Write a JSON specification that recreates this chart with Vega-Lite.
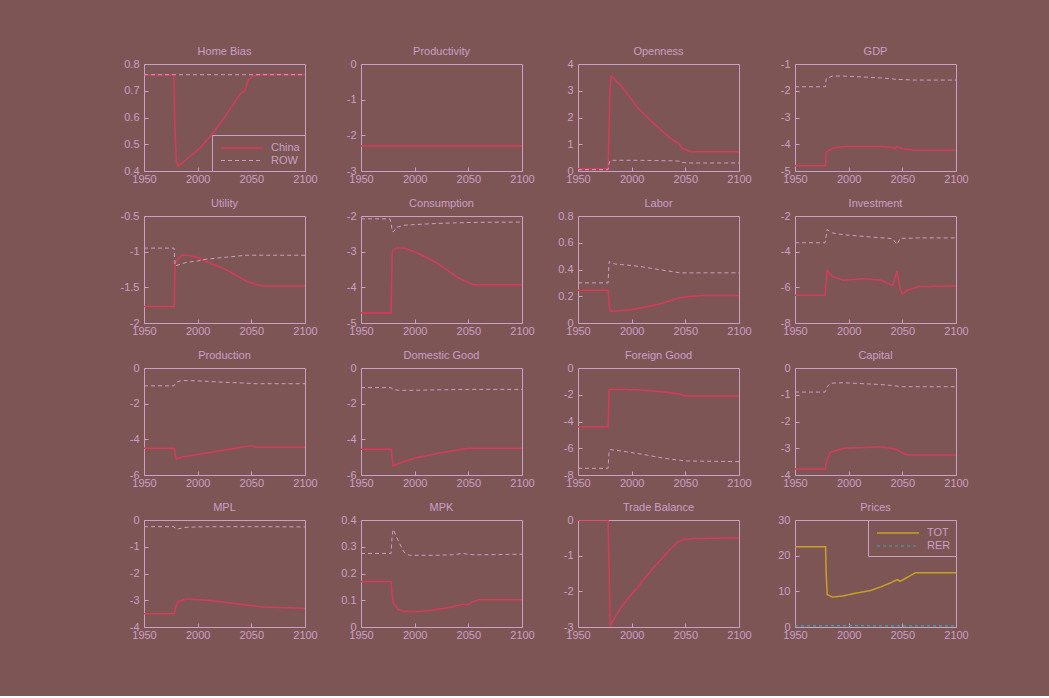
{
  "$schema": "https://vega.github.io/schema/vega-lite/v6.json",
  "background": "#7d5555",
  "padding": {"left": 119, "top": 45, "right": 81, "bottom": 55},
  "data": {"values": [
    {"p":"HB","t":1950,"China":0.76,"ROW":0.76},
    {"p":"HB","t":1977.8,"China":0.76,"ROW":0.76},
    {"p":"HB","t":1978.5,"China":0.6,"ROW":0.76},
    {"p":"HB","t":1980,"China":0.44,"ROW":0.76},
    {"p":"HB","t":1982,"China":0.418,"ROW":0.76},
    {"p":"HB","t":1990,"China":0.445,"ROW":0.76},
    {"p":"HB","t":2002,"China":0.486,"ROW":0.76},
    {"p":"HB","t":2015,"China":0.545,"ROW":0.76},
    {"p":"HB","t":2024,"China":0.595,"ROW":0.76},
    {"p":"HB","t":2035,"China":0.66,"ROW":0.76},
    {"p":"HB","t":2040,"China":0.69,"ROW":0.76},
    {"p":"HB","t":2044,"China":0.7,"ROW":0.76},
    {"p":"HB","t":2047,"China":0.74,"ROW":0.76},
    {"p":"HB","t":2052,"China":0.756,"ROW":0.76},
    {"p":"HB","t":2060,"China":0.761,"ROW":0.76},
    {"p":"HB","t":2100,"China":0.761,"ROW":0.76},

    {"p":"PR","t":1950,"China":-2.3,"ROW":0},
    {"p":"PR","t":2100,"China":-2.3,"ROW":0},

    {"p":"OP","t":1950,"China":0.08,"ROW":0.05},
    {"p":"OP","t":1978,"China":0.08,"ROW":0.05},
    {"p":"OP","t":1979,"China":1.7,"ROW":0.3},
    {"p":"OP","t":1980,"China":3.2,"ROW":0.4},
    {"p":"OP","t":1981,"China":3.55,"ROW":0.4},
    {"p":"OP","t":1991,"China":3.15,"ROW":0.4},
    {"p":"OP","t":2006,"China":2.34,"ROW":0.4},
    {"p":"OP","t":2022,"China":1.72,"ROW":0.39},
    {"p":"OP","t":2038,"China":1.16,"ROW":0.38},
    {"p":"OP","t":2044,"China":1.03,"ROW":0.37},
    {"p":"OP","t":2047,"China":0.85,"ROW":0.32},
    {"p":"OP","t":2055,"China":0.72,"ROW":0.3},
    {"p":"OP","t":2100,"China":0.72,"ROW":0.3},

    {"p":"GDP","t":1950,"China":-4.8,"ROW":-1.85},
    {"p":"GDP","t":1978.5,"China":-4.8,"ROW":-1.85},
    {"p":"GDP","t":1979,"China":-4.3,"ROW":-1.55},
    {"p":"GDP","t":1985,"China":-4.15,"ROW":-1.45},
    {"p":"GDP","t":1995,"China":-4.08,"ROW":-1.45},
    {"p":"GDP","t":2030,"China":-4.08,"ROW":-1.52},
    {"p":"GDP","t":2040,"China":-4.12,"ROW":-1.55},
    {"p":"GDP","t":2043,"China":-4.17,"ROW":-1.57},
    {"p":"GDP","t":2045,"China":-4.08,"ROW":-1.58},
    {"p":"GDP","t":2050,"China":-4.17,"ROW":-1.58},
    {"p":"GDP","t":2060,"China":-4.22,"ROW":-1.6},
    {"p":"GDP","t":2100,"China":-4.22,"ROW":-1.6},

    {"p":"UT","t":1950,"China":-1.77,"ROW":-0.95},
    {"p":"UT","t":1978,"China":-1.77,"ROW":-0.95},
    {"p":"UT","t":1979,"China":-1.15,"ROW":-1.2},
    {"p":"UT","t":1985,"China":-1.05,"ROW":-1.17},
    {"p":"UT","t":1990,"China":-1.05,"ROW":-1.15},
    {"p":"UT","t":2000,"China":-1.08,"ROW":-1.13},
    {"p":"UT","t":2005,"China":-1.12,"ROW":-1.11},
    {"p":"UT","t":2025,"China":-1.24,"ROW":-1.08},
    {"p":"UT","t":2045,"China":-1.41,"ROW":-1.05},
    {"p":"UT","t":2060,"China":-1.48,"ROW":-1.05},
    {"p":"UT","t":2100,"China":-1.48,"ROW":-1.05},

    {"p":"CO","t":1950,"China":-4.72,"ROW":-2.08},
    {"p":"CO","t":1977,"China":-4.72,"ROW":-2.08},
    {"p":"CO","t":1978,"China":-4.72,"ROW":-2.2},
    {"p":"CO","t":1979,"China":-3.05,"ROW":-2.4},
    {"p":"CO","t":1980,"China":-2.95,"ROW":-2.45},
    {"p":"CO","t":1983,"China":-2.9,"ROW":-2.32},
    {"p":"CO","t":1990,"China":-2.9,"ROW":-2.26},
    {"p":"CO","t":2000,"China":-3.0,"ROW":-2.24},
    {"p":"CO","t":2020,"China":-3.3,"ROW":-2.21},
    {"p":"CO","t":2040,"China":-3.72,"ROW":-2.19},
    {"p":"CO","t":2055,"China":-3.93,"ROW":-2.18},
    {"p":"CO","t":2100,"China":-3.93,"ROW":-2.17},

    {"p":"LA","t":1950,"China":0.245,"ROW":0.3},
    {"p":"LA","t":1978,"China":0.245,"ROW":0.3},
    {"p":"LA","t":1979,"China":0.15,"ROW":0.46},
    {"p":"LA","t":1980,"China":0.09,"ROW":0.455},
    {"p":"LA","t":1985,"China":0.09,"ROW":0.44},
    {"p":"LA","t":2000,"China":0.1,"ROW":0.43},
    {"p":"LA","t":2010,"China":0.115,"ROW":0.42},
    {"p":"LA","t":2025,"China":0.14,"ROW":0.4},
    {"p":"LA","t":2045,"China":0.19,"ROW":0.375},
    {"p":"LA","t":2055,"China":0.2,"ROW":0.375},
    {"p":"LA","t":2065,"China":0.205,"ROW":0.375},
    {"p":"LA","t":2100,"China":0.205,"ROW":0.375},

    {"p":"IN","t":1950,"China":-6.45,"ROW":-3.5},
    {"p":"IN","t":1978,"China":-6.45,"ROW":-3.5},
    {"p":"IN","t":1980,"China":-5.06,"ROW":-2.76},
    {"p":"IN","t":1985,"China":-5.4,"ROW":-2.95},
    {"p":"IN","t":1995,"China":-5.6,"ROW":-3.05},
    {"p":"IN","t":2015,"China":-5.52,"ROW":-3.15},
    {"p":"IN","t":2030,"China":-5.6,"ROW":-3.22},
    {"p":"IN","t":2041,"China":-5.9,"ROW":-3.27},
    {"p":"IN","t":2045,"China":-5.1,"ROW":-3.6},
    {"p":"IN","t":2048,"China":-6.1,"ROW":-3.25},
    {"p":"IN","t":2050,"China":-6.36,"ROW":-3.25},
    {"p":"IN","t":2055,"China":-6.15,"ROW":-3.25},
    {"p":"IN","t":2065,"China":-5.96,"ROW":-3.23},
    {"p":"IN","t":2100,"China":-5.92,"ROW":-3.23},

    {"p":"PD","t":1950,"China":-4.5,"ROW":-1.0},
    {"p":"PD","t":1978,"China":-4.5,"ROW":-1.0},
    {"p":"PD","t":1980,"China":-5.1,"ROW":-0.8},
    {"p":"PD","t":1985,"China":-5.0,"ROW":-0.7},
    {"p":"PD","t":2000,"China":-4.85,"ROW":-0.72},
    {"p":"PD","t":2025,"China":-4.6,"ROW":-0.8},
    {"p":"PD","t":2045,"China":-4.4,"ROW":-0.85},
    {"p":"PD","t":2050,"China":-4.35,"ROW":-0.87},
    {"p":"PD","t":2055,"China":-4.45,"ROW":-0.88},
    {"p":"PD","t":2100,"China":-4.45,"ROW":-0.88},

    {"p":"DG","t":1950,"China":-4.55,"ROW":-1.1},
    {"p":"DG","t":1978,"China":-4.55,"ROW":-1.1},
    {"p":"DG","t":1980,"China":-5.5,"ROW":-1.2},
    {"p":"DG","t":1985,"China":-5.35,"ROW":-1.25},
    {"p":"DG","t":2000,"China":-5.05,"ROW":-1.25},
    {"p":"DG","t":2025,"China":-4.75,"ROW":-1.22},
    {"p":"DG","t":2050,"China":-4.5,"ROW":-1.2},
    {"p":"DG","t":2100,"China":-4.5,"ROW":-1.2},

    {"p":"FG","t":1950,"China":-4.4,"ROW":-7.5},
    {"p":"FG","t":1978,"China":-4.4,"ROW":-7.5},
    {"p":"FG","t":1979,"China":-1.65,"ROW":-6.2},
    {"p":"FG","t":1980,"China":-1.6,"ROW":-6.1},
    {"p":"FG","t":1990,"China":-1.6,"ROW":-6.2},
    {"p":"FG","t":2010,"China":-1.65,"ROW":-6.45},
    {"p":"FG","t":2030,"China":-1.8,"ROW":-6.75},
    {"p":"FG","t":2045,"China":-1.95,"ROW":-6.9},
    {"p":"FG","t":2050,"China":-2.1,"ROW":-6.95},
    {"p":"FG","t":2100,"China":-2.1,"ROW":-7.0},

    {"p":"CA","t":1950,"China":-3.78,"ROW":-0.9},
    {"p":"CA","t":1978,"China":-3.78,"ROW":-0.9},
    {"p":"CA","t":1980,"China":-3.4,"ROW":-0.7},
    {"p":"CA","t":1983,"China":-3.15,"ROW":-0.57},
    {"p":"CA","t":1995,"China":-3.0,"ROW":-0.55},
    {"p":"CA","t":2030,"China":-2.95,"ROW":-0.62},
    {"p":"CA","t":2040,"China":-3.0,"ROW":-0.65},
    {"p":"CA","t":2045,"China":-3.05,"ROW":-0.68},
    {"p":"CA","t":2050,"China":-3.18,"ROW":-0.7},
    {"p":"CA","t":2055,"China":-3.25,"ROW":-0.7},
    {"p":"CA","t":2100,"China":-3.25,"ROW":-0.7},

    {"p":"MPL","t":1950,"China":-3.5,"ROW":-0.25},
    {"p":"MPL","t":1978,"China":-3.5,"ROW":-0.25},
    {"p":"MPL","t":1980,"China":-3.2,"ROW":-0.35},
    {"p":"MPL","t":1982,"China":-3.05,"ROW":-0.33},
    {"p":"MPL","t":1990,"China":-2.95,"ROW":-0.27},
    {"p":"MPL","t":2010,"China":-3.0,"ROW":-0.25},
    {"p":"MPL","t":2030,"China":-3.1,"ROW":-0.25},
    {"p":"MPL","t":2050,"China":-3.2,"ROW":-0.25},
    {"p":"MPL","t":2060,"China":-3.25,"ROW":-0.25},
    {"p":"MPL","t":2100,"China":-3.3,"ROW":-0.26},

    {"p":"MPK","t":1950,"China":0.17,"ROW":0.275},
    {"p":"MPK","t":1978,"China":0.17,"ROW":0.275},
    {"p":"MPK","t":1979,"China":0.12,"ROW":0.34},
    {"p":"MPK","t":1980,"China":0.09,"ROW":0.365},
    {"p":"MPK","t":1985,"China":0.065,"ROW":0.32},
    {"p":"MPK","t":1990,"China":0.058,"ROW":0.28},
    {"p":"MPK","t":1995,"China":0.058,"ROW":0.268},
    {"p":"MPK","t":2005,"China":0.058,"ROW":0.268},
    {"p":"MPK","t":2020,"China":0.065,"ROW":0.268},
    {"p":"MPK","t":2035,"China":0.075,"ROW":0.27},
    {"p":"MPK","t":2045,"China":0.085,"ROW":0.275},
    {"p":"MPK","t":2048,"China":0.082,"ROW":0.273},
    {"p":"MPK","t":2055,"China":0.095,"ROW":0.27},
    {"p":"MPK","t":2060,"China":0.102,"ROW":0.27},
    {"p":"MPK","t":2100,"China":0.102,"ROW":0.272},

    {"p":"TB","t":1950,"China":0},
    {"p":"TB","t":1978,"China":0},
    {"p":"TB","t":1979,"China":-1.5},
    {"p":"TB","t":1980,"China":-2.95},
    {"p":"TB","t":1990,"China":-2.45},
    {"p":"TB","t":2005,"China":-1.9},
    {"p":"TB","t":2020,"China":-1.35},
    {"p":"TB","t":2035,"China":-0.85},
    {"p":"TB","t":2043,"China":-0.62},
    {"p":"TB","t":2048,"China":-0.55},
    {"p":"TB","t":2060,"China":-0.52},
    {"p":"TB","t":2100,"China":-0.5},

    {"p":"PX","t":1950,"TOT":22.5,"RER":0.3},
    {"p":"PX","t":1978.5,"TOT":22.5,"RER":0.3},
    {"p":"PX","t":1979,"TOT":15.5,"RER":0.35},
    {"p":"PX","t":1980,"TOT":9.1,"RER":0.4},
    {"p":"PX","t":1985,"TOT":8.4,"RER":0.4},
    {"p":"PX","t":1995,"TOT":8.7,"RER":0.4},
    {"p":"PX","t":2005,"TOT":9.4,"RER":0.4},
    {"p":"PX","t":2020,"TOT":10.2,"RER":0.35},
    {"p":"PX","t":2030,"TOT":11.25,"RER":0.3},
    {"p":"PX","t":2040,"TOT":12.5,"RER":0.3},
    {"p":"PX","t":2045,"TOT":13.3,"RER":0.3},
    {"p":"PX","t":2048,"TOT":12.8,"RER":0.3},
    {"p":"PX","t":2055,"TOT":14.0,"RER":0.3},
    {"p":"PX","t":2060,"TOT":14.8,"RER":0.3},
    {"p":"PX","t":2062,"TOT":15.2,"RER":0.3},
    {"p":"PX","t":2100,"TOT":15.2,"RER":0.3}
  ]},
  "columns": 4,
  "spacing": {"row": 45, "column": 56},
  "bounds": "flush",
  "resolve": {
    "scale": {"color": "independent", "strokeDash": "independent", "strokeWidth": "independent"},
    "legend": {"color": "independent", "strokeDash": "independent"}
  },
  "concat": [
    {"title": "Home Bias", "width": 161, "height": 107,
     "transform": [{"filter": "datum.p === 'HB'"}, {"fold": ["China", "ROW", "TOT", "RER"], "as": ["s", "v"]}, {"filter": "isValid(datum.v)"}],
     "mark": {"type": "line", "clip": true},
     "encoding": {
       "x": {"field": "t", "type": "quantitative", "scale": {"domain": [1950, 2100]}, "axis": {"values": [1950, 2000, 2050, 2100], "format": "d"}},
       "y": {"field": "v", "type": "quantitative", "scale": {"domain": [0.4, 0.8], "nice": false, "zero": false}, "axis": {"values": [0.4, 0.5, 0.6, 0.7, 0.8], "labelExpr": "toString(datum.value)"}},
       "color": {"field": "s", "type": "nominal", "scale": {"domain": ["China", "ROW"], "range": ["#d63c5a", "#c9a0c6"]}, "legend": {"orient": "bottom-right"}},
       "strokeDash": {"field": "s", "type": "nominal", "scale": {"domain": ["China", "ROW"], "range": [[1, 0], [4, 3]]}, "legend": {"orient": "bottom-right"}},
       "strokeWidth": {"field": "s", "type": "nominal", "scale": {"domain": ["China", "ROW"], "range": [1.5, 1]}, "legend": null}
     }},
    {"title": "Productivity", "width": 161, "height": 107,
     "transform": [{"filter": "datum.p === 'PR'"}, {"fold": ["China", "ROW", "TOT", "RER"], "as": ["s", "v"]}, {"filter": "isValid(datum.v)"}],
     "mark": {"type": "line", "clip": true},
     "encoding": {
       "x": {"field": "t", "type": "quantitative", "scale": {"domain": [1950, 2100]}, "axis": {"values": [1950, 2000, 2050, 2100], "format": "d"}},
       "y": {"field": "v", "type": "quantitative", "scale": {"domain": [-3, 0], "nice": false, "zero": false}, "axis": {"values": [-3, -2, -1, 0], "labelExpr": "toString(datum.value)"}},
       "color": {"field": "s", "type": "nominal", "scale": {"domain": ["China", "ROW"], "range": ["#d63c5a", "#c9a0c6"]}, "legend": null},
       "strokeDash": {"field": "s", "type": "nominal", "scale": {"domain": ["China", "ROW"], "range": [[1, 0], [4, 3]]}, "legend": null},
       "strokeWidth": {"field": "s", "type": "nominal", "scale": {"domain": ["China", "ROW"], "range": [1.5, 1]}, "legend": null}
     }},
    {"title": "Openness", "width": 161, "height": 107,
     "transform": [{"filter": "datum.p === 'OP'"}, {"fold": ["China", "ROW", "TOT", "RER"], "as": ["s", "v"]}, {"filter": "isValid(datum.v)"}],
     "mark": {"type": "line", "clip": true},
     "encoding": {
       "x": {"field": "t", "type": "quantitative", "scale": {"domain": [1950, 2100]}, "axis": {"values": [1950, 2000, 2050, 2100], "format": "d"}},
       "y": {"field": "v", "type": "quantitative", "scale": {"domain": [0, 4], "nice": false, "zero": false}, "axis": {"values": [0, 1, 2, 3, 4], "labelExpr": "toString(datum.value)"}},
       "color": {"field": "s", "type": "nominal", "scale": {"domain": ["China", "ROW"], "range": ["#d63c5a", "#c9a0c6"]}, "legend": null},
       "strokeDash": {"field": "s", "type": "nominal", "scale": {"domain": ["China", "ROW"], "range": [[1, 0], [4, 3]]}, "legend": null},
       "strokeWidth": {"field": "s", "type": "nominal", "scale": {"domain": ["China", "ROW"], "range": [1.5, 1]}, "legend": null}
     }},
    {"title": "GDP", "width": 161, "height": 107,
     "transform": [{"filter": "datum.p === 'GDP'"}, {"fold": ["China", "ROW", "TOT", "RER"], "as": ["s", "v"]}, {"filter": "isValid(datum.v)"}],
     "mark": {"type": "line", "clip": true},
     "encoding": {
       "x": {"field": "t", "type": "quantitative", "scale": {"domain": [1950, 2100]}, "axis": {"values": [1950, 2000, 2050, 2100], "format": "d"}},
       "y": {"field": "v", "type": "quantitative", "scale": {"domain": [-5, -1], "nice": false, "zero": false}, "axis": {"values": [-5, -4, -3, -2, -1], "labelExpr": "toString(datum.value)"}},
       "color": {"field": "s", "type": "nominal", "scale": {"domain": ["China", "ROW"], "range": ["#d63c5a", "#c9a0c6"]}, "legend": null},
       "strokeDash": {"field": "s", "type": "nominal", "scale": {"domain": ["China", "ROW"], "range": [[1, 0], [4, 3]]}, "legend": null},
       "strokeWidth": {"field": "s", "type": "nominal", "scale": {"domain": ["China", "ROW"], "range": [1.5, 1]}, "legend": null}
     }},
    {"title": "Utility", "width": 161, "height": 107,
     "transform": [{"filter": "datum.p === 'UT'"}, {"fold": ["China", "ROW", "TOT", "RER"], "as": ["s", "v"]}, {"filter": "isValid(datum.v)"}],
     "mark": {"type": "line", "clip": true},
     "encoding": {
       "x": {"field": "t", "type": "quantitative", "scale": {"domain": [1950, 2100]}, "axis": {"values": [1950, 2000, 2050, 2100], "format": "d"}},
       "y": {"field": "v", "type": "quantitative", "scale": {"domain": [-2, -0.5], "nice": false, "zero": false}, "axis": {"values": [-2, -1.5, -1, -0.5], "labelExpr": "toString(datum.value)"}},
       "color": {"field": "s", "type": "nominal", "scale": {"domain": ["China", "ROW"], "range": ["#d63c5a", "#c9a0c6"]}, "legend": null},
       "strokeDash": {"field": "s", "type": "nominal", "scale": {"domain": ["China", "ROW"], "range": [[1, 0], [4, 3]]}, "legend": null},
       "strokeWidth": {"field": "s", "type": "nominal", "scale": {"domain": ["China", "ROW"], "range": [1.5, 1]}, "legend": null}
     }},
    {"title": "Consumption", "width": 161, "height": 107,
     "transform": [{"filter": "datum.p === 'CO'"}, {"fold": ["China", "ROW", "TOT", "RER"], "as": ["s", "v"]}, {"filter": "isValid(datum.v)"}],
     "mark": {"type": "line", "clip": true},
     "encoding": {
       "x": {"field": "t", "type": "quantitative", "scale": {"domain": [1950, 2100]}, "axis": {"values": [1950, 2000, 2050, 2100], "format": "d"}},
       "y": {"field": "v", "type": "quantitative", "scale": {"domain": [-5, -2], "nice": false, "zero": false}, "axis": {"values": [-5, -4, -3, -2], "labelExpr": "toString(datum.value)"}},
       "color": {"field": "s", "type": "nominal", "scale": {"domain": ["China", "ROW"], "range": ["#d63c5a", "#c9a0c6"]}, "legend": null},
       "strokeDash": {"field": "s", "type": "nominal", "scale": {"domain": ["China", "ROW"], "range": [[1, 0], [4, 3]]}, "legend": null},
       "strokeWidth": {"field": "s", "type": "nominal", "scale": {"domain": ["China", "ROW"], "range": [1.5, 1]}, "legend": null}
     }},
    {"title": "Labor", "width": 161, "height": 107,
     "transform": [{"filter": "datum.p === 'LA'"}, {"fold": ["China", "ROW", "TOT", "RER"], "as": ["s", "v"]}, {"filter": "isValid(datum.v)"}],
     "mark": {"type": "line", "clip": true},
     "encoding": {
       "x": {"field": "t", "type": "quantitative", "scale": {"domain": [1950, 2100]}, "axis": {"values": [1950, 2000, 2050, 2100], "format": "d"}},
       "y": {"field": "v", "type": "quantitative", "scale": {"domain": [0, 0.8], "nice": false, "zero": false}, "axis": {"values": [0, 0.2, 0.4, 0.6, 0.8], "labelExpr": "toString(datum.value)"}},
       "color": {"field": "s", "type": "nominal", "scale": {"domain": ["China", "ROW"], "range": ["#d63c5a", "#c9a0c6"]}, "legend": null},
       "strokeDash": {"field": "s", "type": "nominal", "scale": {"domain": ["China", "ROW"], "range": [[1, 0], [4, 3]]}, "legend": null},
       "strokeWidth": {"field": "s", "type": "nominal", "scale": {"domain": ["China", "ROW"], "range": [1.5, 1]}, "legend": null}
     }},
    {"title": "Investment", "width": 161, "height": 107,
     "transform": [{"filter": "datum.p === 'IN'"}, {"fold": ["China", "ROW", "TOT", "RER"], "as": ["s", "v"]}, {"filter": "isValid(datum.v)"}],
     "mark": {"type": "line", "clip": true},
     "encoding": {
       "x": {"field": "t", "type": "quantitative", "scale": {"domain": [1950, 2100]}, "axis": {"values": [1950, 2000, 2050, 2100], "format": "d"}},
       "y": {"field": "v", "type": "quantitative", "scale": {"domain": [-8, -2], "nice": false, "zero": false}, "axis": {"values": [-8, -6, -4, -2], "labelExpr": "toString(datum.value)"}},
       "color": {"field": "s", "type": "nominal", "scale": {"domain": ["China", "ROW"], "range": ["#d63c5a", "#c9a0c6"]}, "legend": null},
       "strokeDash": {"field": "s", "type": "nominal", "scale": {"domain": ["China", "ROW"], "range": [[1, 0], [4, 3]]}, "legend": null},
       "strokeWidth": {"field": "s", "type": "nominal", "scale": {"domain": ["China", "ROW"], "range": [1.5, 1]}, "legend": null}
     }},
    {"title": "Production", "width": 161, "height": 107,
     "transform": [{"filter": "datum.p === 'PD'"}, {"fold": ["China", "ROW", "TOT", "RER"], "as": ["s", "v"]}, {"filter": "isValid(datum.v)"}],
     "mark": {"type": "line", "clip": true},
     "encoding": {
       "x": {"field": "t", "type": "quantitative", "scale": {"domain": [1950, 2100]}, "axis": {"values": [1950, 2000, 2050, 2100], "format": "d"}},
       "y": {"field": "v", "type": "quantitative", "scale": {"domain": [-6, 0], "nice": false, "zero": false}, "axis": {"values": [-6, -4, -2, 0], "labelExpr": "toString(datum.value)"}},
       "color": {"field": "s", "type": "nominal", "scale": {"domain": ["China", "ROW"], "range": ["#d63c5a", "#c9a0c6"]}, "legend": null},
       "strokeDash": {"field": "s", "type": "nominal", "scale": {"domain": ["China", "ROW"], "range": [[1, 0], [4, 3]]}, "legend": null},
       "strokeWidth": {"field": "s", "type": "nominal", "scale": {"domain": ["China", "ROW"], "range": [1.5, 1]}, "legend": null}
     }},
    {"title": "Domestic Good", "width": 161, "height": 107,
     "transform": [{"filter": "datum.p === 'DG'"}, {"fold": ["China", "ROW", "TOT", "RER"], "as": ["s", "v"]}, {"filter": "isValid(datum.v)"}],
     "mark": {"type": "line", "clip": true},
     "encoding": {
       "x": {"field": "t", "type": "quantitative", "scale": {"domain": [1950, 2100]}, "axis": {"values": [1950, 2000, 2050, 2100], "format": "d"}},
       "y": {"field": "v", "type": "quantitative", "scale": {"domain": [-6, 0], "nice": false, "zero": false}, "axis": {"values": [-6, -4, -2, 0], "labelExpr": "toString(datum.value)"}},
       "color": {"field": "s", "type": "nominal", "scale": {"domain": ["China", "ROW"], "range": ["#d63c5a", "#c9a0c6"]}, "legend": null},
       "strokeDash": {"field": "s", "type": "nominal", "scale": {"domain": ["China", "ROW"], "range": [[1, 0], [4, 3]]}, "legend": null},
       "strokeWidth": {"field": "s", "type": "nominal", "scale": {"domain": ["China", "ROW"], "range": [1.5, 1]}, "legend": null}
     }},
    {"title": "Foreign Good", "width": 161, "height": 107,
     "transform": [{"filter": "datum.p === 'FG'"}, {"fold": ["China", "ROW", "TOT", "RER"], "as": ["s", "v"]}, {"filter": "isValid(datum.v)"}],
     "mark": {"type": "line", "clip": true},
     "encoding": {
       "x": {"field": "t", "type": "quantitative", "scale": {"domain": [1950, 2100]}, "axis": {"values": [1950, 2000, 2050, 2100], "format": "d"}},
       "y": {"field": "v", "type": "quantitative", "scale": {"domain": [-8, 0], "nice": false, "zero": false}, "axis": {"values": [-8, -6, -4, -2, 0], "labelExpr": "toString(datum.value)"}},
       "color": {"field": "s", "type": "nominal", "scale": {"domain": ["China", "ROW"], "range": ["#d63c5a", "#c9a0c6"]}, "legend": null},
       "strokeDash": {"field": "s", "type": "nominal", "scale": {"domain": ["China", "ROW"], "range": [[1, 0], [4, 3]]}, "legend": null},
       "strokeWidth": {"field": "s", "type": "nominal", "scale": {"domain": ["China", "ROW"], "range": [1.5, 1]}, "legend": null}
     }},
    {"title": "Capital", "width": 161, "height": 107,
     "transform": [{"filter": "datum.p === 'CA'"}, {"fold": ["China", "ROW", "TOT", "RER"], "as": ["s", "v"]}, {"filter": "isValid(datum.v)"}],
     "mark": {"type": "line", "clip": true},
     "encoding": {
       "x": {"field": "t", "type": "quantitative", "scale": {"domain": [1950, 2100]}, "axis": {"values": [1950, 2000, 2050, 2100], "format": "d"}},
       "y": {"field": "v", "type": "quantitative", "scale": {"domain": [-4, 0], "nice": false, "zero": false}, "axis": {"values": [-4, -3, -2, -1, 0], "labelExpr": "toString(datum.value)"}},
       "color": {"field": "s", "type": "nominal", "scale": {"domain": ["China", "ROW"], "range": ["#d63c5a", "#c9a0c6"]}, "legend": null},
       "strokeDash": {"field": "s", "type": "nominal", "scale": {"domain": ["China", "ROW"], "range": [[1, 0], [4, 3]]}, "legend": null},
       "strokeWidth": {"field": "s", "type": "nominal", "scale": {"domain": ["China", "ROW"], "range": [1.5, 1]}, "legend": null}
     }},
    {"title": "MPL", "width": 161, "height": 107,
     "transform": [{"filter": "datum.p === 'MPL'"}, {"fold": ["China", "ROW", "TOT", "RER"], "as": ["s", "v"]}, {"filter": "isValid(datum.v)"}],
     "mark": {"type": "line", "clip": true},
     "encoding": {
       "x": {"field": "t", "type": "quantitative", "scale": {"domain": [1950, 2100]}, "axis": {"values": [1950, 2000, 2050, 2100], "format": "d"}},
       "y": {"field": "v", "type": "quantitative", "scale": {"domain": [-4, 0], "nice": false, "zero": false}, "axis": {"values": [-4, -3, -2, -1, 0], "labelExpr": "toString(datum.value)"}},
       "color": {"field": "s", "type": "nominal", "scale": {"domain": ["China", "ROW"], "range": ["#d63c5a", "#c9a0c6"]}, "legend": null},
       "strokeDash": {"field": "s", "type": "nominal", "scale": {"domain": ["China", "ROW"], "range": [[1, 0], [4, 3]]}, "legend": null},
       "strokeWidth": {"field": "s", "type": "nominal", "scale": {"domain": ["China", "ROW"], "range": [1.5, 1]}, "legend": null}
     }},
    {"title": "MPK", "width": 161, "height": 107,
     "transform": [{"filter": "datum.p === 'MPK'"}, {"fold": ["China", "ROW", "TOT", "RER"], "as": ["s", "v"]}, {"filter": "isValid(datum.v)"}],
     "mark": {"type": "line", "clip": true},
     "encoding": {
       "x": {"field": "t", "type": "quantitative", "scale": {"domain": [1950, 2100]}, "axis": {"values": [1950, 2000, 2050, 2100], "format": "d"}},
       "y": {"field": "v", "type": "quantitative", "scale": {"domain": [0, 0.4], "nice": false, "zero": false}, "axis": {"values": [0, 0.1, 0.2, 0.3, 0.4], "labelExpr": "toString(datum.value)"}},
       "color": {"field": "s", "type": "nominal", "scale": {"domain": ["China", "ROW"], "range": ["#d63c5a", "#c9a0c6"]}, "legend": null},
       "strokeDash": {"field": "s", "type": "nominal", "scale": {"domain": ["China", "ROW"], "range": [[1, 0], [4, 3]]}, "legend": null},
       "strokeWidth": {"field": "s", "type": "nominal", "scale": {"domain": ["China", "ROW"], "range": [1.5, 1]}, "legend": null}
     }},
    {"title": "Trade Balance", "width": 161, "height": 107,
     "transform": [{"filter": "datum.p === 'TB'"}, {"fold": ["China", "ROW", "TOT", "RER"], "as": ["s", "v"]}, {"filter": "isValid(datum.v)"}],
     "mark": {"type": "line", "clip": true},
     "encoding": {
       "x": {"field": "t", "type": "quantitative", "scale": {"domain": [1950, 2100]}, "axis": {"values": [1950, 2000, 2050, 2100], "format": "d"}},
       "y": {"field": "v", "type": "quantitative", "scale": {"domain": [-3, 0], "nice": false, "zero": false}, "axis": {"values": [-3, -2, -1, 0], "labelExpr": "toString(datum.value)"}},
       "color": {"field": "s", "type": "nominal", "scale": {"domain": ["China", "ROW"], "range": ["#d63c5a", "#c9a0c6"]}, "legend": null},
       "strokeDash": {"field": "s", "type": "nominal", "scale": {"domain": ["China", "ROW"], "range": [[1, 0], [4, 3]]}, "legend": null},
       "strokeWidth": {"field": "s", "type": "nominal", "scale": {"domain": ["China", "ROW"], "range": [1.5, 1]}, "legend": null}
     }},
    {"title": "Prices", "width": 161, "height": 107,
     "transform": [{"filter": "datum.p === 'PX'"}, {"fold": ["China", "ROW", "TOT", "RER"], "as": ["s", "v"]}, {"filter": "isValid(datum.v)"}],
     "mark": {"type": "line", "clip": true},
     "encoding": {
       "x": {"field": "t", "type": "quantitative", "scale": {"domain": [1950, 2100]}, "axis": {"values": [1950, 2000, 2050, 2100], "format": "d"}},
       "y": {"field": "v", "type": "quantitative", "scale": {"domain": [0, 30], "nice": false, "zero": false}, "axis": {"values": [0, 10, 20, 30], "labelExpr": "toString(datum.value)"}},
       "color": {"field": "s", "type": "nominal", "scale": {"domain": ["TOT", "RER"], "range": ["#c8a028", "#3aa8b0"]}, "legend": {"orient": "top-right"}},
       "strokeDash": {"field": "s", "type": "nominal", "scale": {"domain": ["TOT", "RER"], "range": [[1, 0], [3, 3]]}, "legend": {"orient": "top-right"}},
       "strokeWidth": {"field": "s", "type": "nominal", "scale": {"domain": ["TOT", "RER"], "range": [1.5, 1.2]}, "legend": null}
     }}
  ],
  "config": {
    "font": "Liberation Sans",
    "view": {"stroke": "#c9a0c6", "strokeWidth": 1, "fill": null},
    "axis": {
      "grid": false, "domain": false, "title": null,
      "tickColor": "#c9a0c6", "tickSize": -4, "labelPadding": 6,
      "labelColor": "#c9a0c6", "labelFont": "Liberation Sans", "labelFontSize": 11,
      "labelOverlap": false, "labelFlush": false, "labelBound": false
    },
    "axisY": {"labelPadding": 9},
    "title": {"color": "#c9a0c6", "font": "Liberation Sans", "fontSize": 11, "fontWeight": "normal", "offset": 1},
    "legend": {
      "title": null, "offset": 0, "strokeColor": "#c9a0c6", "fillColor": "#7d5555", "padding": 5,
      "symbolType": "M-3,0H3", "symbolSize": 196, "symbolOffset": 17, "symbolStrokeWidth": 1.5,
      "labelColor": "#c9a0c6", "labelFont": "Liberation Sans", "labelFontSize": 11, "rowPadding": -2, "labelOffset": 21
    }
  }
}
